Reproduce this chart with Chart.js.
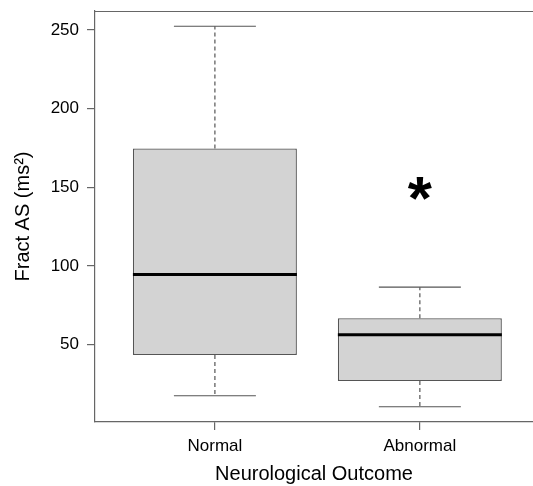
<!DOCTYPE html>
<html><head><meta charset="utf-8">
<script src="https://cdn.jsdelivr.net/npm/chart.js@4/dist/chart.umd.min.js"></script>
<style>html,body{margin:0;padding:0;background:#fff}#wrap{width:533px;height:486px;position:relative}</style>
</head><body><div id="wrap"><canvas id="c"></canvas></div>
<script>
// ---- data ----
const categories = ['Normal', 'Abnormal'];
const whiskerLow  = [17.5, 10.5];
const q1          = [43.4, 26.9];
const median      = [94.6, 56.2];
const q3          = [174.7, 66.8];
const whiskerHigh = [252.4, 86.5];
const yTickValues = [50, 100, 150, 200, 250];
const markCategory = ['Abnormal'];
const markValue = [149];
const markText = ['*'];

const FONT = "'Liberation Sans', Arial, sans-serif";
const AXIS = '#666666';

const boxData = categories.map((c, i) => ({x: i, y: [q1[i], q3[i]]}));

const framePlugin = {
  id: 'frame',
  beforeDatasetsDraw(chart) {
    const {ctx, chartArea} = chart;
    ctx.save();
    ctx.strokeStyle = AXIS;
    ctx.lineWidth = 1.2;
    ctx.beginPath();
    ctx.moveTo(chartArea.left, chartArea.top + 0.5);
    ctx.lineTo(chartArea.right + 10, chartArea.top + 0.5);
    ctx.stroke();
    ctx.restore();
  }
};

const boxPlugin = {
  id: 'boxParts',
  afterDatasetsDraw(chart) {
    const {ctx, scales} = chart;
    const xs = scales.x, ys = scales.y;
    const bars = chart.getDatasetMeta(0).data;
    ctx.save();
    categories.forEach((c, i) => {
      const bar = bars[i];
      const cx = bar.x, w = bar.width;
      const yHi = ys.getPixelForValue(whiskerHigh[i]);
      const yLo = ys.getPixelForValue(whiskerLow[i]);
      const yQ1 = ys.getPixelForValue(q1[i]);
      const yQ3 = ys.getPixelForValue(q3[i]);
      const yMed = ys.getPixelForValue(median[i]);
      ctx.strokeStyle = '#555555';
      ctx.lineWidth = 1.2;
      ctx.setLineDash([4, 3]);
      ctx.beginPath();
      ctx.moveTo(cx, yQ3); ctx.lineTo(cx, yHi);
      ctx.moveTo(cx, yQ1); ctx.lineTo(cx, yLo);
      ctx.stroke();
      ctx.setLineDash([]);
      ctx.beginPath();
      ctx.moveTo(cx - w / 4, yHi); ctx.lineTo(cx + w / 4, yHi);
      ctx.moveTo(cx - w / 4, yLo); ctx.lineTo(cx + w / 4, yLo);
      ctx.stroke();
      ctx.strokeStyle = '#000000';
      ctx.lineWidth = 3;
      ctx.beginPath();
      ctx.moveTo(cx - w / 2, yMed); ctx.lineTo(cx + w / 2, yMed);
      ctx.stroke();
    });
    markText.forEach((t, k) => {
      const px = xs.getPixelForValue(categories.indexOf(markCategory[k]));
      const py = ys.getPixelForValue(markValue[k]);
      ctx.font = "bold 62px " + FONT;
      ctx.fillStyle = '#000000';
      ctx.textAlign = 'center';
      ctx.textBaseline = 'alphabetic';
      const m = ctx.measureText(t);
      const base = py + (m.actualBoundingBoxAscent - m.actualBoundingBoxDescent) / 2;
      ctx.fillText(t, px, base);
    });
    ctx.restore();
  }
};

new Chart(document.getElementById('c'), {
  type: 'bar',
  data: {
    datasets: [{
      data: boxData,
      backgroundColor: '#d3d3d3',
      borderColor: '#555555',
      borderWidth: 1.3,
      borderSkipped: false,
      barPercentage: 0.8,
      categoryPercentage: 1.0
    }]
  },
  options: {
    responsive: true,
    maintainAspectRatio: false,
    animation: false,
    devicePixelRatio: 1,
    layout: {padding: {top: 11, right: 0, left: 0, bottom: 0}},
    plugins: {legend: {display: false}, tooltip: {enabled: false}},
    scales: {
      x: {
        type: 'linear',
        min: -0.585,
        max: 1.552,
        offset: false,
        grid: {offset: false, drawOnChartArea: false, drawTicks: true, tickLength: 8, color: AXIS, lineWidth: 1.2},
        border: {display: true, color: AXIS, width: 1.2},
        afterBuildTicks: (axis) => { axis.ticks = categories.map((c, i) => ({value: i})); },
        afterFit: (axis) => { axis.height = 64; axis.paddingLeft = 0; axis.paddingRight = 0; },
        ticks: {
          autoSkip: false, maxRotation: 0, padding: 6,
          color: '#000', font: {family: FONT, size: 17},
          callback: (v) => categories[v] !== undefined ? categories[v] : ''
        },
        title: {display: true, text: 'Neurological Outcome', color: '#000',
                font: {family: FONT, size: 20}, padding: {top: 0, bottom: 0}}
      },
      y: {
        type: 'linear',
        min: 0.8,
        max: 262.1,
        beginAtZero: false,
        grid: {drawOnChartArea: false, drawTicks: true, tickLength: 8, color: AXIS, lineWidth: 1.2},
        border: {display: true, color: AXIS, width: 1.2},
        afterBuildTicks: (axis) => { axis.ticks = yTickValues.map(v => ({value: v})); },
        afterFit: (axis) => { axis.width = 95; axis.paddingTop = 0; axis.paddingBottom = 0; },
        ticks: {padding: 8, color: '#000', font: {family: FONT, size: 17}},
        title: {display: true, text: 'Fract AS (ms²)', color: '#000',
                font: {family: FONT, size: 20}, padding: {top: 11, bottom: 0}}
      }
    }
  },
  plugins: [framePlugin, boxPlugin]
});
</script>
</body></html>
